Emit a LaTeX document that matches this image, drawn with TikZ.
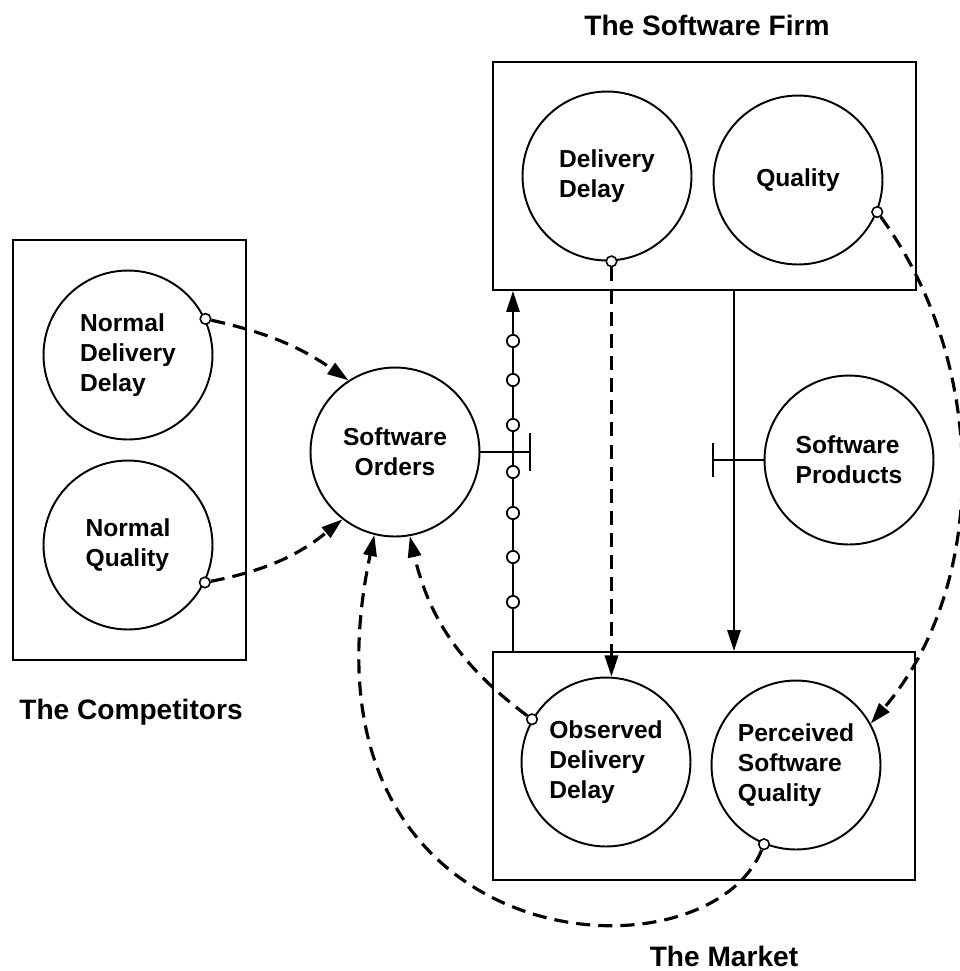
\documentclass[tikz,border=0pt]{standalone}
\usepackage{fontspec}
\setmainfont{Liberation Sans}
\usetikzlibrary{arrows.meta}
\begin{document}
\begin{tikzpicture}[x=0.02cm,y=-0.02cm,
  every node/.style={font=\bfseries\fontsize{14}{17}\selectfont},
  var/.style={circle, draw, line width=1.1pt, minimum size=3.38cm, inner sep=0pt, align=left},
  sector/.style={draw, line width=1pt, rectangle, inner sep=0pt},
  title/.style={font=\bfseries\fontsize{16}{19}\selectfont, anchor=base},
  tip/.style={-{Triangle[length=12pt,width=7.5pt]}},
  info/.style={tip, line width=1.8pt, dash pattern=on 8pt off 4.6pt},
  flow/.style={tip, line width=1.3pt},
  link/.style={line width=1.2pt},
  src/.style={circle, draw, fill=white, line width=0.9pt, minimum size=6pt, inner sep=0pt},
  rate/.style={circle, draw, fill=white, line width=1pt, minimum size=7pt, inner sep=0pt}
]
\fill[white] (0,0) rectangle (960,971);
\useasboundingbox (0,0) rectangle (960,971);

% sector boxes
\node[sector, minimum width=8.46cm, minimum height=4.56cm] (firm) at (704.5,176) {};
\node[sector, minimum width=8.44cm, minimum height=4.56cm] (market) at (704,766) {};
\node[sector, minimum width=4.66cm, minimum height=8.4cm] (comp) at (129.5,450) {};

% sector titles
\node[title] (tfirm) at (707,35) {The Software Firm};
\node[title] (tcomp) at (131,719) {The Competitors};
\node[title] (tmarket) at (724,966) {The Market};

% variables
\node[var] (dd) at (607,176) {Delivery\\Delay};
\node[var] (q) at (798,180) {Quality};
\node[var] (ndd) at (128,355) {Normal\\Delivery\\Delay};
\node[var] (nq) at (128,545) {Normal\\Quality};
\node[var, align=center] (so) at (395,452) {Software\\Orders};
\node[var] (sp) at (849,460) {Software\\Products};
\node[var] (odd) at (606,762) {Observed\\Delivery\\Delay};
\node[var] (psq) at (796,765) {Perceived\\Software\\Quality};

% material flows between firm and market
\coordinate (fl) at (513,0);
\coordinate (fr) at (734,0);
\draw[flow] (market.north -| fl) -- (firm.south -| fl);
\draw[flow] (firm.south -| fr) -- (market.north -| fr);
\foreach \y in {341,380,425,472,513,557,602}
  \node[rate] (r\y) at (513,\y) {};

% valves
\coordinate (v1) at (530,452);
\draw[link] (so.east) -- (v1);
\draw[link] (v1) ++(0,-19) -- ++(0,38);
\coordinate (v2) at (713,460);
\draw[link] (sp.west) -- (v2);
\draw[link] (v2) ++(0,-17) -- ++(0,34);

% information links
\node[src] (s1) at (ndd.25) {};
\node[src] (s2) at (nq.-26) {};
\node[src] (s3) at (odd.150) {};
\node[src] (s4) at (dd.-87) {};
\node[src] (s5) at (q.-22) {};
\node[src] (s6) at (psq.-112) {};

\draw[info] (s1) to[bend left=11] (so.123);
\draw[info] (s2) to[bend right=14] (so.232);
\draw[info] (s3) to[bend left=20] (so.-80);
\draw[info] (s4) -- (s4 |- odd.north);
\draw[info] (s5) .. controls (989,365) and (989,585) .. (psq.29);
\draw[info] (s6) .. controls (705,990) and (285,960) .. (so.-104);
\end{tikzpicture}
\end{document}
